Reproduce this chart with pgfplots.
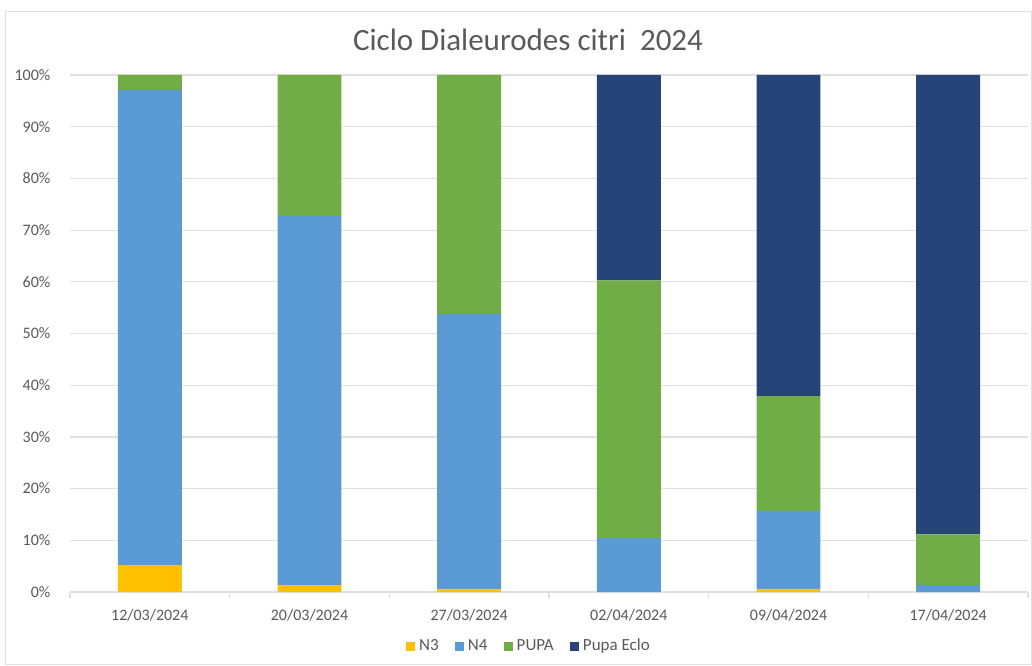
\documentclass[border=0pt]{standalone}
\usepackage{pgfplots}
\pgfplotsset{compat=1.18}
\usepackage{fontspec}
\setmainfont{Carlito}
\definecolor{cN3}{HTML}{FFC000}
\definecolor{cN4}{HTML}{5B9BD5}
\definecolor{cPUPA}{HTML}{70AD47}
\definecolor{cEclo}{HTML}{264478}
\definecolor{txt}{HTML}{595959}
\definecolor{gridc}{HTML}{E0E0E0}
\begin{document}
\begin{tikzpicture}
\useasboundingbox (0,0) rectangle (516pt,332.5pt);
\draw[gridc,line width=0.5pt] (2.5pt,0.5pt) rectangle (515.5pt,326.5pt);
\node[txt,font=\fontsize{15.5}{17}\selectfont] at (264pt,312.5pt) {Ciclo Dialeurodes citri\ \ 2024};
\begin{axis}[
  at={(35pt,36.5pt)}, anchor=south west,
  scale only axis, width=479pt, height=258.5pt,
  ybar stacked, bar width=0.4,
  xmin=-0.5, xmax=5.5, ymin=0, ymax=100,
  xtick={0,...,5},
  xticklabels={12/03/2024,20/03/2024,27/03/2024,02/04/2024,09/04/2024,17/04/2024},
  minor xtick={-0.5,0.5,1.5,2.5,3.5,4.5,5.5},
  major x tick style={draw=none},
  minor x tick style={draw=gridc,line width=0.6pt},
  minor tick length=3pt,
  tick align=outside,
  ytick={0,10,...,100},
  yticklabel={\pgfmathprintnumber{\tick}\%},
  y tick style={draw=none},
  ymajorgrids, grid style={draw=gridc,line width=0.6pt},
  axis x line*=bottom, axis y line*=left,
  x axis line style={draw=gridc,line width=0.8pt,-},
  y axis line style={draw=none},
  ticklabel style={txt,font=\fontsize{8}{9}\selectfont},
  xticklabel style={yshift=-1pt},
  yticklabel style={xshift=-2pt},
  /pgf/number format/assume math mode=true,
  legend style={at={(0.48,-0.075)},anchor=north,draw=none,legend columns=-1,
    font=\fontsize{8.5}{9}\selectfont,text=txt,
    /tikz/every even column/.append style={column sep=6pt}},
  legend image code/.code={\fill[#1] (0pt,-2.3pt) rectangle (4.6pt,2.3pt);},
  every axis plot/.append style={draw=none},
]
\addplot[fill=cN3] coordinates {(0,5.2) (1,1.35) (2,0.5) (3,0) (4,0.5) (5,0)};
\addplot[fill=cN4] coordinates {(0,91.9) (1,71.35) (2,53.3) (3,10.4) (4,15.2) (5,1.35)};
\addplot[fill=cPUPA] coordinates {(0,2.9) (1,27.3) (2,46.2) (3,49.9) (4,22.2) (5,9.8)};
\addplot[fill=cEclo] coordinates {(0,0) (1,0) (2,0) (3,39.7) (4,62.1) (5,88.85)};
\legend{N3,N4,PUPA,Pupa Eclo}
\end{axis}
\end{tikzpicture}
\end{document}
